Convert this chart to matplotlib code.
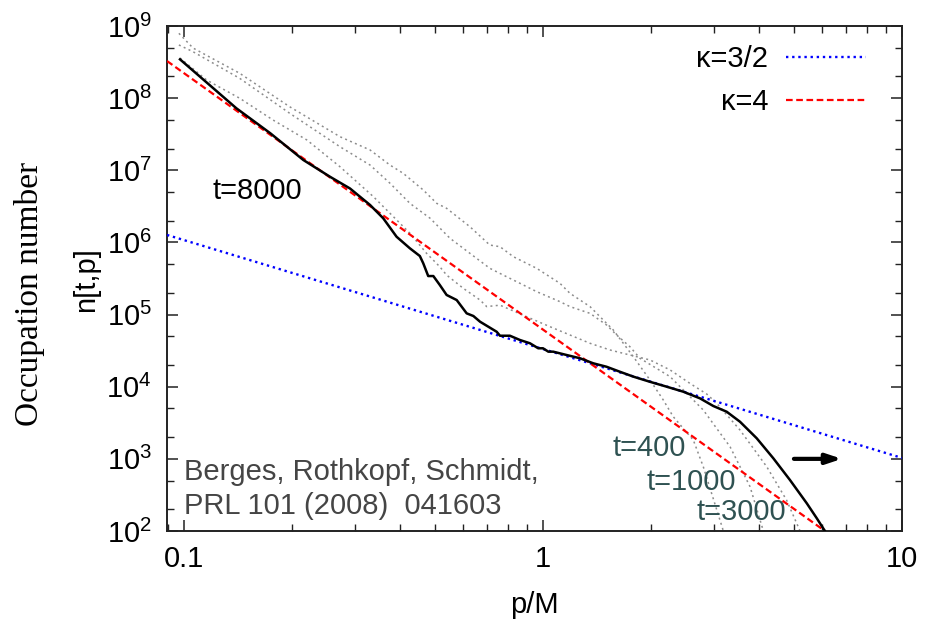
import numpy as np
import matplotlib
matplotlib.use("Agg")
import matplotlib.pyplot as plt
from matplotlib.ticker import LogLocator, FixedLocator, FixedFormatter, NullFormatter

plt.rcParams['font.family'] = ['Liberation Sans', 'DejaVu Sans']
plt.rcParams['mathtext.fontset'] = 'custom'
plt.rcParams['mathtext.rm'] = 'Liberation Sans'
plt.rcParams['mathtext.it'] = 'Liberation Sans'

# ---- data ----
# t=8000 (black solid)
p_8000 = [0.0975, 0.140, 0.174, 0.215, 0.255, 0.290, 0.330, 0.359, 0.391, 0.426, 0.454,
          0.464, 0.479, 0.495, 0.516, 0.539, 0.575, 0.613, 0.640, 0.668, 0.743, 0.759,
          0.809, 0.863, 0.920, 0.970, 1.000, 1.035, 1.068, 1.164, 1.268, 1.381, 1.504,
          1.639, 1.785, 1.986, 2.212, 2.459, 2.737, 2.982, 3.249, 3.538, 3.938, 4.38,
          4.875, 5.43, 5.79, 6.1]
n_8000 = [3.45e8, 7.23e7, 3.26e7, 1.39e7, 8.15e6, 5.6e6, 3.3e6, 2.16e6, 1.2e6, 8.28e5, 6.48e5,
          5.14e5, 3.42e5, 3.42e5, 2.57e5, 1.87e5, 1.59e5, 1.04e5, 9.55e4, 7.96e4, 5.78e4, 5.09e4,
          5.09e4, 4.44e4, 4.0e4, 3.41e4, 3.41e4, 3.06e4, 3.06e4, 2.75e4, 2.48e4, 2.11e4, 1.89e4,
          1.61e4, 1.38e4, 1.17e4, 1.0e4, 8.53e3, 6.9e3, 5.4e3, 4.5e3, 3.27e3, 1.93e3, 1.02e3,
          509, 242, 150, 100]

# t=400 (grey dotted)
p_400 = [0.0968, 0.106, 0.143, 0.197, 0.272, 0.330, 0.375, 0.408, 0.464, 0.506, 0.539,
         0.626, 0.711, 0.759, 0.827, 0.960, 1.115, 1.189, 1.352, 1.472, 1.570, 1.674,
         1.785, 1.986, 2.163, 2.306, 2.623, 2.796, 3.18]
n_400 = [7.92e8, 4.95e8, 2.21e8, 7.6e7, 2.92e7, 1.91e7, 1.18e7, 9.08e6, 5.33e6, 3.48e6, 2.97e6,
         1.65e6, 9.2e5, 8.73e5, 6.34e5, 4.38e5, 2.71e5, 1.97e5, 1.29e5, 8.41e4, 6.11e4, 4.0e4,
         2.61e4, 1.24e4, 6.55e3, 3.84e3, 1.82e3, 778, 100]

# t=1000 (grey dotted)
p_1000 = [0.0968, 0.106, 0.143, 0.197, 0.272, 0.330, 0.375, 0.426, 0.485, 0.551, 0.626,
          0.711, 0.775, 0.863, 0.960, 1.115, 1.189, 1.352, 1.504, 1.604, 1.747, 1.862,
          2.259, 2.796, 3.32, 3.774, 4.11]
n_1000 = [5.46e8, 4.4e8, 1.88e8, 6.17e7, 2.12e7, 1.18e7, 6.6e6, 3.48e6, 2.16e6, 1.14e6, 7.06e5,
          4.38e5, 3.53e5, 2.71e5, 2.08e5, 1.51e5, 1.29e5, 1.04e5, 7.16e4, 5.21e4, 3.58e4, 2.48e4,
          1.38e4, 4.75e3, 1.47e3, 411, 100]

# t=3000 (grey dotted)
p_3000 = [0.0975, 0.1157, 0.143, 0.177, 0.220, 0.272, 0.337, 0.375, 0.426, 0.474, 0.516,
          0.539, 0.600, 0.668, 0.697, 0.759, 0.901, 1.046, 1.189, 1.352, 1.537, 1.747,
          1.986, 2.259, 2.568, 2.857, 3.047, 3.538, 4.20, 4.77, 5.20]
n_3000 = [3.6e8, 1.78e8, 9.96e7, 4.98e7, 2.63e7, 1.12e7, 4.31e6, 2.53e6, 1.34e6, 7.06e5, 4.6e5,
          3.53e5, 2.31e5, 1.59e5, 1.29e5, 1.35e5, 9.33e4, 6.79e4, 5.21e4, 4.0e4, 3.23e4, 2.75e4,
          2.35e4, 1.71e4, 1.11e4, 7.93e3, 5.89e3, 2.51e3, 778, 268, 100]

# power-law guide lines (end points)
p_k32 = [0.0897, 10.0]
n_k32 = [1.27e6, 1.03e3]
p_k4 = [0.0897, 6.1]
n_k4 = [3.27e8, 100.0]

x_ticks = [0.1, 1, 10]
x_ticklabels = ["0.1", "1", "10"]

# ---- figure ----
W, H = 940, 623
fig = plt.figure(figsize=(W / 100, H / 100), dpi=100)
L, R, T, B = 167, 902, 26, 531
ax = fig.add_axes([L / W, 1 - B / H, (R - L) / W, (B - T) / H])

grey = '#8c8c8c'
for pp, nn in [(p_400, n_400), (p_1000, n_1000), (p_3000, n_3000)]:
    ax.plot(pp, nn, color=grey, lw=1.1, linestyle=(0, (1.3, 2.2)), zorder=2)

lb, = ax.plot(p_k32, n_k32, color='#0000ff', lw=1.7, linestyle=(0, (1.0, 1.6)), zorder=3,
              label='κ=3/2')
lr, = ax.plot(p_k4, n_k4, color='#ff0000', lw=1.6, linestyle=(0, (3.0, 1.6)), zorder=4,
              label='κ=4')
ax.plot(p_8000, n_8000, color='black', lw=1.8, zorder=5)

ax.set_xscale('log')
ax.set_yscale('log')
ax.set_xlim(0.0897, 10)
ax.set_ylim(1e2, 1e9)

ax.xaxis.set_major_locator(FixedLocator(x_ticks))
ax.xaxis.set_major_formatter(FixedFormatter(x_ticklabels))
ax.xaxis.set_minor_locator(LogLocator(base=10, subs=np.arange(2, 10), numticks=100))
ax.xaxis.set_minor_formatter(NullFormatter())
ax.yaxis.set_major_locator(LogLocator(base=10, numticks=20))
ax.yaxis.set_minor_locator(LogLocator(base=10, subs=[2.0, 5.0], numticks=100))
ax.yaxis.set_minor_formatter(NullFormatter())

spine_c = '#222222'
for s in ax.spines.values():
    s.set_linewidth(1.4)
    s.set_color(spine_c)
ax.tick_params(which='both', direction='in', top=True, right=True, color=spine_c)
ax.tick_params(which='major', length=8, width=1.1, labelsize=21, pad=10)
ax.tick_params(which='minor', length=5, width=1.0)
ax.tick_params(axis='y', which='major', pad=11)

# axis labels
fig.text(30 / W, 1 - 294 / H, 'Occupation number', rotation=90, ha='center', va='center',
         fontsize=24, family=['Liberation Serif', 'DejaVu Serif'])
fig.text(86 / W, 1 - 280 / H, 'n[t,p]', rotation=90, ha='center', va='center', fontsize=21)
fig.text(534 / W, 1 - 605 / H, 'p/M', ha='center', va='center', fontsize=21)

# legend
leg = ax.legend(handles=[lb, lr], loc='upper right', bbox_to_anchor=(0.951, 0.962),
                frameon=False, markerfirst=False, fontsize=21, handlelength=2.75,
                handletextpad=0.6, labelspacing=0.5, borderpad=0, borderaxespad=0)

# annotations
ax.text(0.1224, 0.673, 't=8000', transform=ax.transAxes, ha='center', va='center',
        fontsize=21, color='black')
teal = '#2f5252'
ax.text(0.6565, 0.1644, 't=400', transform=ax.transAxes, ha='center', va='center',
        fontsize=21, color=teal)
ax.text(0.7129, 0.097, 't=1000', transform=ax.transAxes, ha='center', va='center',
        fontsize=21, color=teal)
ax.text(0.781, 0.0376, 't=3000', transform=ax.transAxes, ha='center', va='center',
        fontsize=21, color=teal)
ax.text(0.0231, 0.1168, 'Berges, Rothkopf, Schmidt,', transform=ax.transAxes, ha='left',
        va='center', fontsize=21, color='#454545')
ax.text(0.0231, 0.0495, 'PRL 101 (2008)  041603', transform=ax.transAxes, ha='left',
        va='center', fontsize=21, color='#454545')

ax.annotate('', xy=(6.8, 1e3), xytext=(5.0, 1e3),
            arrowprops=dict(arrowstyle='-|>,head_length=0.9,head_width=0.3', lw=3,
                            color='black', shrinkA=0, shrinkB=0), zorder=6)

fig.savefig('out.png', dpi=100)
